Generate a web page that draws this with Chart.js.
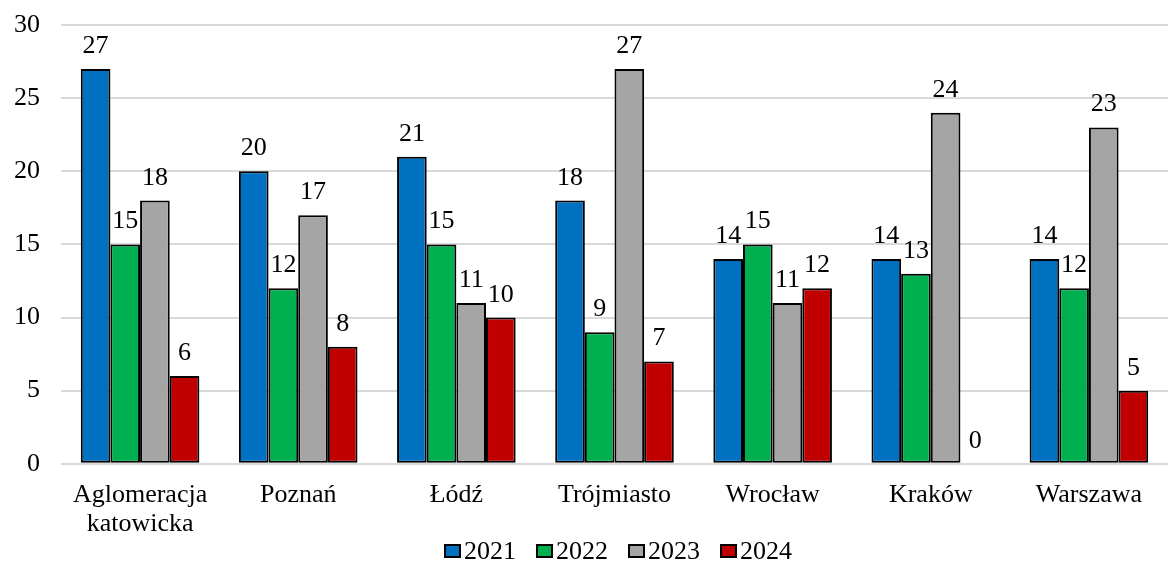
<!DOCTYPE html>
<html>
<head>
<meta charset="utf-8">
<script src="https://cdn.jsdelivr.net/npm/chart.js@4/dist/chart.umd.min.js"></script>
<style>
  html, body { margin: 0; padding: 0; background: #fff; }
  #wrap { width: 1168px; height: 563px; }
</style>
</head>
<body>
<div id="wrap"><canvas id="c"></canvas></div>
<script>
const categories = [['Aglomeracja', 'katowicka'], 'Poznań', 'Łódź', 'Trójmiasto', 'Wrocław', 'Kraków', 'Warszawa'];
const seriesNames = ['2021', '2022', '2023', '2024'];
const values2021 = [27, 20, 21, 18, 14, 14, 14];
const values2022 = [15, 12, 15, 9, 15, 13, 12];
const values2023 = [18, 17, 11, 27, 11, 24, 23];
const values2024 = [6, 8, 10, 7, 12, 0, 5];
const yTicks = [0, 5, 10, 15, 20, 25, 30];

const colors = ['#0070C0', '#00B050', '#A5A5A5', '#C00000'];
const FONT = "'Liberation Serif', 'Times New Roman', serif";
const FONT_SIZE = 26;

// Value labels above each bar
const valueLabels = {
  id: 'valueLabels',
  afterDatasetsDraw(chart) {
    const ctx = chart.ctx;
    ctx.save();
    ctx.font = FONT_SIZE + 'px ' + FONT;
    ctx.fillStyle = '#000';
    ctx.textAlign = 'center';
    ctx.textBaseline = 'alphabetic';
    chart.data.datasets.forEach((ds, i) => {
      chart.getDatasetMeta(i).data.forEach((bar, j) => {
        ctx.fillText(String(ds.data[j]), bar.x, bar.y - 16);
      });
    });
    ctx.restore();
  }
};

// Compact legend row under the category labels: small bordered square, then the year
const bottomLegend = {
  id: 'bottomLegend',
  afterDraw(chart) {
    const ctx = chart.ctx;
    const box = 15, gap = 4, itemGap = 21;
    ctx.save();
    ctx.font = FONT_SIZE + 'px ' + FONT;
    const items = chart.data.datasets.map(ds => ({
      ds, w: box + gap + ctx.measureText(ds.label).width
    }));
    const total = items.reduce((s, it) => s + it.w, 0) + itemGap * (items.length - 1);
    const area = chart.chartArea;
    let x = (area.left + area.right) / 2 - total / 2 + 4;
    const baseline = chart.height - 4;
    items.forEach(it => {
      const by = baseline - 14;
      ctx.fillStyle = it.ds.backgroundColor;
      ctx.fillRect(x, by, box, box - 3);
      ctx.strokeStyle = '#000';
      ctx.lineWidth = 2;
      ctx.strokeRect(x, by, box, box - 3);
      ctx.fillStyle = '#000';
      ctx.textAlign = 'left';
      ctx.textBaseline = 'alphabetic';
      ctx.fillText(it.ds.label, x + box + gap, baseline);
      x += it.w + itemGap;
    });
    ctx.restore();
  }
};

const seriesData = [values2021, values2022, values2023, values2024];

function build() {
  new Chart(document.getElementById('c'), {
    type: 'bar',
    data: {
      labels: categories,
      datasets: seriesNames.map((name, i) => ({
        label: name,
        data: seriesData[i],
        backgroundColor: colors[i],
        borderColor: '#000',
        borderWidth: 2,
        borderSkipped: false,
        categoryPercentage: 0.75,
        barPercentage: 1.0
      }))
    },
    options: {
      responsive: true,
      maintainAspectRatio: false,
      animation: false,
      layout: { padding: { top: 25, right: 0, left: 0, bottom: 15 } },
      plugins: {
        legend: { display: false },
        tooltip: { enabled: false }
      },
      scales: {
        x: {
          grid: { display: false },
          border: { display: false },
          ticks: {
            font: { family: FONT, size: FONT_SIZE, lineHeight: 1.12 },
            color: '#000',
            maxRotation: 0,
            autoSkip: false,
            padding: 9
          }
        },
        y: {
          min: 0,
          max: 30,
          afterBuildTicks: (axis) => { axis.ticks = yTicks.map(v => ({ value: v })); },
          afterFit: (axis) => { axis.width = 61; },
          grid: {
            color: '#D9D9D9',
            lineWidth: 2,
            drawTicks: true,
            tickLength: 21,
            tickColor: 'rgba(0,0,0,0)'
          },
          border: { display: false },
          ticks: {
            font: { family: FONT, size: FONT_SIZE },
            color: '#000',
            padding: 0
          }
        }
      }
    },
    plugins: [valueLabels, bottomLegend]
  });
}

// Make sure the serif face is ready before the canvas draws any text
Promise.all([
  document.fonts.load(FONT_SIZE + 'px "Liberation Serif"'),
  document.fonts.load(FONT_SIZE + 'px "Liberation Serif"', 'ńŁźó')
]).then(build, build);
</script>
</body>
</html>
